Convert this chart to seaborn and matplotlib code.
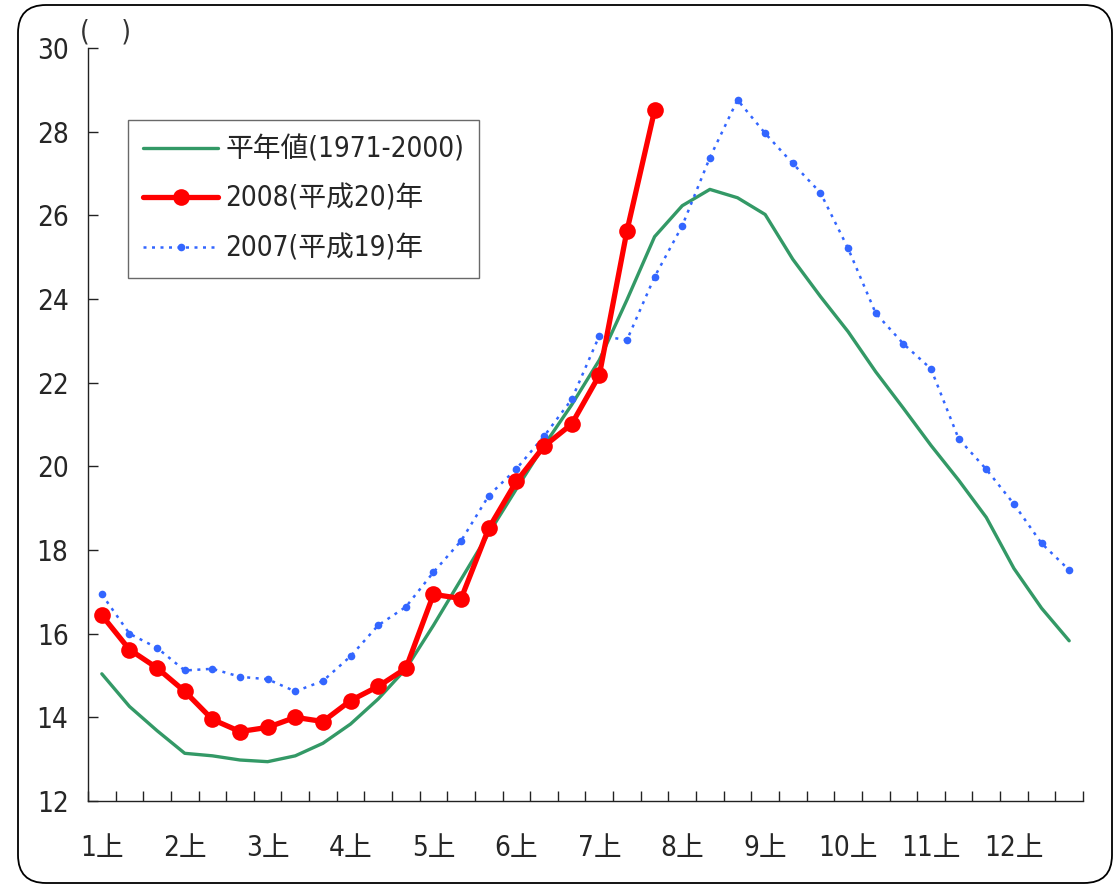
import numpy as np
import pandas as pd
import matplotlib
matplotlib.use("Agg")
import matplotlib.pyplot as plt
import seaborn as sns
from matplotlib.patches import FancyBboxPatch
from matplotlib.lines import Line2D
from matplotlib.transforms import IdentityTransform

# ---- data ----
months = [f"{m}上" for m in range(1, 13)]
periods = list(range(36))  # 上/中/下 for each month

normal_label = "平年値(1971-2000)"
y2008_label = "2008(平成20)年"
y2007_label = "2007(平成19)年"

normal = [15.04, 14.26, 13.68, 13.14, 13.08, 12.98, 12.94, 13.08, 13.38, 13.84,
          14.44, 15.16, 16.20, 17.30, 18.40, 19.46, 20.50, 21.47, 22.54, 23.98,
          25.49, 26.23, 26.62, 26.42, 26.02, 24.95, 24.06, 23.22, 22.26, 21.39,
          20.50, 19.67, 18.78, 17.56, 16.61, 15.83]

y2007 = [16.94, 16.00, 15.66, 15.12, 15.16, 14.97, 14.91, 14.62, 14.87, 15.46,
         16.20, 16.64, 17.47, 18.22, 19.30, 19.94, 20.72, 21.60, 23.12, 23.02,
         24.53, 25.75, 27.38, 28.76, 27.96, 27.24, 26.54, 25.21, 23.66, 22.93,
         22.33, 20.66, 19.93, 19.10, 18.16, 17.52]

y2008 = [16.44, 15.62, 15.18, 14.62, 13.95, 13.66, 13.76, 14.00, 13.90, 14.40,
         14.74, 15.17, 16.94, 16.84, 18.52, 19.64, 20.48, 21.01, 22.18, 25.63,
         28.51]

# ---- style ----
sns.set_style("white")
fonts = ["DejaVu Sans", "Noto Sans CJK JP"]
plt.rcParams["font.family"] = fonts
plt.rcParams["font.stretch"] = "condensed"
FS = 20

fig = plt.figure(figsize=(11.15, 8.85), dpi=100)
ax = fig.add_axes([88 / 1115, 1 - 801 / 885, (1083 - 88) / 1115, (801 - 48) / 885])

df_n = pd.DataFrame({"x": periods, "y": normal})
df_7 = pd.DataFrame({"x": periods, "y": y2007})
df_8 = pd.DataFrame({"x": periods[:len(y2008)], "y": y2008})

green = "#339966"
red = "#FF0000"
blue = "#3366FF"

sns.lineplot(data=df_n, x="x", y="y", ax=ax, color=green, lw=2.4, sort=False, zorder=2)
sns.lineplot(data=df_7, x="x", y="y", ax=ax, color=blue, lw=1.8, sort=False,
             linestyle=(0, (1.2, 2.2)), marker="o", markersize=5.5,
             markeredgewidth=0, zorder=3)
sns.lineplot(data=df_8, x="x", y="y", ax=ax, color=red, lw=3.8, sort=False,
             marker="o", markersize=12, markeredgewidth=0, zorder=4)

ax.set_xlim(-0.5, 35.5)
ax.set_ylim(12, 30)
ax.set_xlabel("")
ax.set_ylabel("")

for s in ["top", "right"]:
    ax.spines[s].set_visible(False)
for s in ["left", "bottom"]:
    ax.spines[s].set_color("#222222")
    ax.spines[s].set_linewidth(1.0)

ax.set_yticks(range(12, 31, 2))
ax.set_yticklabels([str(v) for v in range(12, 31, 2)])
ax.tick_params(axis="y", direction="in", length=7, width=1, color="#222222",
               labelsize=FS, pad=14, left=True)

ax.set_xticks(range(0, 36, 3))
ax.set_xticklabels(months)
ax.set_xticks(np.arange(-0.5, 36, 1), minor=True)
ax.tick_params(axis="x", which="major", length=0, labelsize=FS, pad=24)
ax.tick_params(axis="x", which="minor", direction="in", length=7, width=1,
               color="#222222", bottom=True)

# legend
handles = [
    Line2D([], [], color=green, lw=2.4),
    Line2D([], [], color=red, lw=3.8, marker="o", markersize=12, markeredgewidth=0),
    Line2D([], [], color=blue, lw=1.8, linestyle=(0, (1.2, 2.2)), marker="o",
           markersize=5.5, markeredgewidth=0),
]
leg = ax.legend(handles, [normal_label, y2008_label, y2007_label],
                loc="upper left", bbox_to_anchor=((128 - 88) / 995, (801 - 120) / 753),
                fontsize=FS, frameon=True, fancybox=False, handlelength=2.7,
                borderpad=0.55, labelspacing=0.78, handletextpad=0.25,
                borderaxespad=0)
leg.get_frame().set_edgecolor("#444444")
leg.get_frame().set_linewidth(1.0)

# unit text
fig.text(80 / 1115, 1 - 32 / 885, "(    )", fontsize=20, ha="left", va="center",
         color="#333333")

# rounded outer frame
frame = FancyBboxPatch((18, 2), 1094, 878, boxstyle="round,pad=0,rounding_size=28",
                       transform=IdentityTransform(), fill=False, ec="black", lw=1.3)
fig.patches.append(frame)

fig.savefig("out.png", dpi=100)
